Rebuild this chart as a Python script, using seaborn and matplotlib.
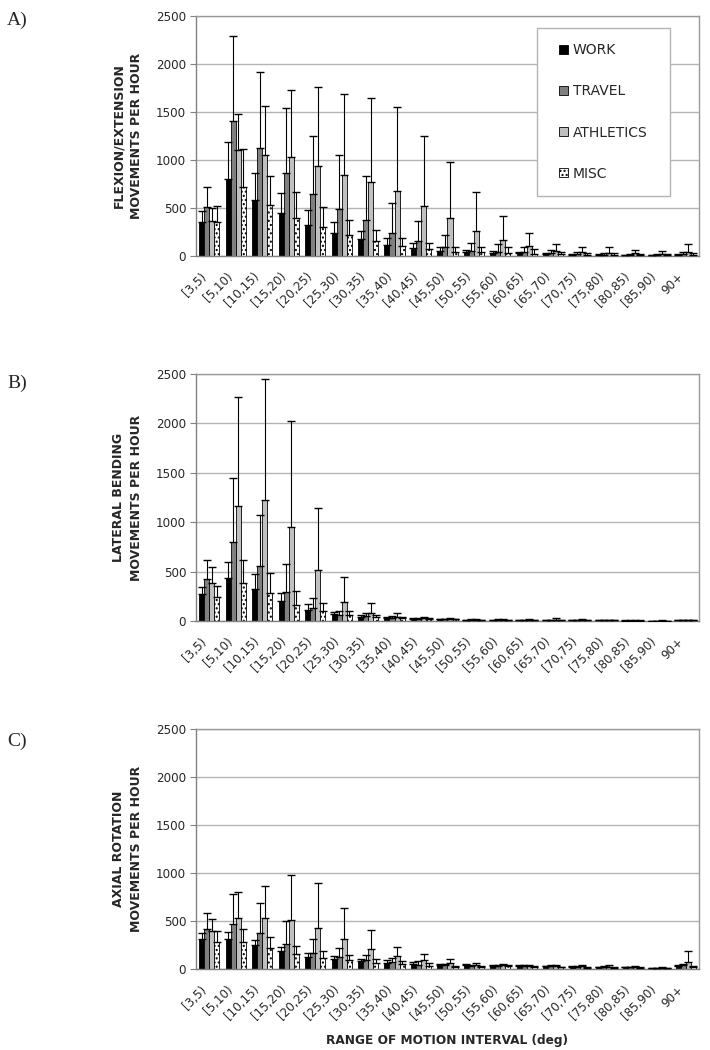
import numpy as np
import pandas as pd
import matplotlib
matplotlib.use("Agg")
import matplotlib.pyplot as plt
from matplotlib.patches import Patch, Rectangle
from matplotlib.transforms import ScaledTranslation
import seaborn as sns

categories = ["[3,5)", "[5,10)", "[10,15)", "[15,20)", "[20,25)", "[25,30)", "[30,35)",
              "[35,40)", "[40,45)", "[45,50)", "[50,55)", "[55,60)", "[60,65)", "[65,70)",
              "[70,75)", "[75,80)", "[80,85)", "[85,90)", "90+"]
activities = ["WORK", "TRAVEL", "ATHLETICS", "MISC"]

# Panel A: flexion/extension
a_work = [354, 798, 583, 444, 326, 236, 173, 118, 80, 56, 38, 35, 28, 21, 14, 10, 8, 6, 10]
a_work_sd = [111, 385, 281, 212, 153, 118, 87, 69, 52, 34, 22, 20, 17, 14, 11, 10, 7, 6, 10]
a_travel = [510, 1409, 1128, 864, 645, 489, 371, 243, 153, 90, 56, 45, 42, 28, 17, 14, 10, 8, 21]
a_travel_sd = [205, 885, 787, 677, 604, 562, 458, 312, 211, 125, 76, 76, 52, 32, 23, 21, 15, 12, 19]
a_athl = [364, 1100, 1051, 1031, 937, 847, 767, 680, 524, 399, 260, 167, 104, 56, 38, 35, 28, 17, 42]
a_athl_sd = [132, 375, 507, 701, 819, 836, 878, 868, 722, 576, 403, 246, 139, 65, 52, 55, 31, 35, 79]
a_misc = [354, 718, 531, 399, 298, 219, 153, 101, 76, 42, 45, 28, 24, 17, 14, 10, 8, 6, 14]
a_misc_sd = [170, 392, 305, 267, 212, 156, 118, 86, 56, 55, 45, 62, 49, 28, 21, 20, 17, 12, 21]

# Panel B: lateral bending
b_work = [274, 439, 324, 203, 112, 68, 41, 30, 20, 15, 10, 10, 8, 8, 6, 5, 4, 3, 5]
b_work_sd = [67, 159, 153, 78, 57, 27, 15, 10, 6, 5, 4, 4, 3, 3, 3, 2, 2, 1, 2]
b_travel = [426, 798, 558, 291, 132, 61, 51, 34, 20, 15, 12, 10, 8, 8, 6, 5, 4, 3, 6]
b_travel_sd = [192, 645, 517, 287, 98, 44, 25, 12, 8, 6, 5, 5, 4, 4, 3, 2, 2, 1, 3]
b_athl = [382, 1163, 1227, 953, 514, 193, 78, 37, 34, 18, 14, 14, 12, 14, 10, 6, 4, 3, 8]
b_athl_sd = [162, 1105, 1227, 1072, 632, 257, 105, 41, 10, 8, 6, 8, 6, 20, 10, 4, 2, 2, 4]
b_misc = [247, 382, 281, 166, 105, 61, 37, 34, 20, 15, 10, 10, 8, 8, 6, 5, 4, 3, 6]
b_misc_sd = [108, 233, 206, 135, 78, 44, 20, 10, 6, 5, 4, 4, 3, 3, 3, 2, 2, 1, 3]

# Panel C: axial rotation
c_work = [311, 311, 248, 185, 126, 108, 84, 66, 56, 45, 38, 35, 30, 28, 22, 20, 18, 12, 28]
c_work_sd = [67, 77, 56, 42, 42, 25, 24, 25, 14, 12, 10, 10, 8, 8, 6, 6, 6, 4, 10]
c_travel = [416, 465, 378, 259, 171, 126, 98, 70, 42, 38, 35, 35, 28, 30, 22, 20, 18, 12, 38]
c_travel_sd = [172, 315, 311, 238, 140, 91, 49, 45, 38, 15, 12, 12, 10, 10, 8, 8, 6, 4, 15]
c_athl = [395, 532, 532, 511, 430, 311, 210, 136, 94, 59, 38, 38, 30, 30, 28, 25, 22, 15, 73]
c_athl_sd = [126, 273, 329, 472, 469, 326, 196, 91, 60, 49, 21, 17, 14, 12, 10, 12, 10, 6, 112]
c_misc = [283, 283, 217, 157, 115, 91, 63, 52, 35, 24, 24, 28, 20, 18, 16, 14, 12, 10, 21]
c_misc_sd = [112, 133, 112, 81, 77, 56, 45, 28, 24, 12, 10, 10, 8, 8, 6, 6, 5, 4, 8]

panels = [
    ("A)", "FLEXION/EXTENSION\nMOVEMENTS PER HOUR",
     [a_work, a_travel, a_athl, a_misc], [a_work_sd, a_travel_sd, a_athl_sd, a_misc_sd]),
    ("B)", "LATERAL BENDING\nMOVEMENTS PER HOUR",
     [b_work, b_travel, b_athl, b_misc], [b_work_sd, b_travel_sd, b_athl_sd, b_misc_sd]),
    ("C)", "AXIAL ROTATION\nMOVEMENTS PER HOUR",
     [c_work, c_travel, c_athl, c_misc], [c_work_sd, c_travel_sd, c_athl_sd, c_misc_sd]),
]

sns.set_style("white")
plt.rcParams['font.family'] = ['DejaVu Sans']
plt.rcParams['hatch.linewidth'] = 1.0

colors = {"WORK": "#000000", "TRAVEL": "#808080", "ATHLETICS": "#c0c0c0", "MISC": "#ffffff"}

fig = plt.figure(figsize=(7.1, 10.5), dpi=100)
rects = [(0.276, 0.7562, 0.7085, 0.2286),
         (0.276, 0.4086, 0.7085, 0.2352),
         (0.276, 0.0771, 0.7085, 0.2286)]
letter_y = [0.9886, 0.643, 0.302]
shift = ScaledTranslation(-4 / 100, 0, fig.dpi_scale_trans)

for i, (letter, ylab, means, sds) in enumerate(panels):
    ax = fig.add_axes(rects[i])
    rows = []
    for act, m, s in zip(activities, means, sds):
        for cat, v, e in zip(categories, m, s):
            rows.append({"interval": cat, "activity": act, "value": v, "sd": e})
    df = pd.DataFrame(rows)
    sns.barplot(data=df, x="interval", y="value", hue="activity", order=categories,
                hue_order=activities, palette=colors, errorbar=None, width=0.76,
                edgecolor="black", linewidth=0.6, ax=ax, legend=False, zorder=2)
    for act, cont in zip(activities, ax.containers):
        xs, ys = [], []
        for p in cont.patches:
            xs.append(p.get_x() + p.get_width() / 2)
            ys.append(p.get_height())
            if act == "MISC":
                p.set_hatch("....")
        err = df[df.activity == act].set_index("interval").loc[categories, "sd"].values
        ax.errorbar(xs, ys, yerr=[np.zeros(len(err)), err], fmt="none", ecolor="black",
                    elinewidth=0.8, capsize=2.6, capthick=1.0, zorder=3)

    ax.set_ylim(0, 2500)
    ax.set_xlim(-0.5, len(categories) - 0.5)
    ax.set_yticks([0, 500, 1000, 1500, 2000, 2500])
    ax.yaxis.grid(True, color="#b4b4b4", linewidth=1.0, zorder=0)
    ax.set_axisbelow(True)
    for sp in ax.spines.values():
        sp.set_color("#9a9a9a")
        sp.set_linewidth(1.0)
    ax.spines["left"].set_color("#808080")
    ax.spines["bottom"].set_color("#808080")
    ax.set_xticks(np.arange(len(categories)))
    ax.set_xticklabels(categories, rotation=45, ha="right", fontsize=8.6)
    for lab in ax.get_xticklabels():
        lab.set_transform(lab.get_transform() + shift)
    ax.set_xticks(np.arange(-0.5, len(categories), 1), minor=True)
    ax.tick_params(axis="x", which="major", length=0, pad=10)
    ax.tick_params(axis="x", which="minor", length=4, color="#808080", direction="out")
    ax.tick_params(axis="y", which="major", length=4, color="#808080", direction="out",
                   labelsize=8.6, pad=3, left=True)
    ax.set_ylabel(ylab, fontsize=9, fontweight="bold", linespacing=1.5)
    ax.yaxis.set_label_coords(-0.105, 0.5)
    ax.set_xlabel("")
    fig.text(0.010, letter_y[i], letter, fontsize=14, family=["Liberation Serif", "DejaVu Serif"],
             ha="left", va="top")
    if i == 0:
        handles = [Patch(facecolor=colors[a], edgecolor="black", linewidth=0.6,
                         hatch="...." if a == "MISC" else None) for a in activities]
        ax.add_patch(Rectangle((0.678, 0.25), 0.264, 0.70, transform=ax.transAxes,
                               facecolor="white", edgecolor="#b4b4b4", linewidth=1.0,
                               zorder=4))
        leg = ax.legend(handles, activities, loc="center", bbox_to_anchor=(0.81, 0.60),
                        frameon=False, fontsize=10,
                        handlelength=0.6, handleheight=0.6, handletextpad=0.35,
                        labelspacing=1.96, borderpad=0.0, borderaxespad=0)
        leg.set_zorder(5)
    if i == 2:
        ax.set_xlabel("RANGE OF MOTION INTERVAL (deg)", fontsize=8.7, fontweight="bold",
                      labelpad=8)

fig.savefig("out.png", dpi=100)
